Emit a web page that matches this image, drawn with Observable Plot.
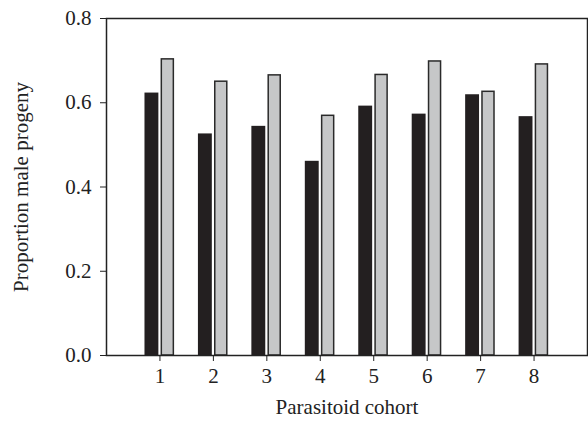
<!DOCTYPE html>
<html>
<head>
<meta charset="utf-8">
<script src="https://cdn.jsdelivr.net/npm/d3@7"></script>
<script src="https://cdn.jsdelivr.net/npm/@observablehq/plot@0.6"></script>
<style>
  html, body { margin: 0; padding: 0; background: #fff; }
</style>
</head>
<body>
<div id="chart"></div>
<script>
const cohorts = [1, 2, 3, 4, 5, 6, 7, 8];
const seriesDark = [0.623, 0.526, 0.544, 0.461, 0.592, 0.573, 0.619, 0.567];
const seriesLight = [0.703, 0.650, 0.665, 0.569, 0.666, 0.698, 0.626, 0.691];
const yTicks = [0, 0.2, 0.4, 0.6, 0.8];

const dark = cohorts.map((c, i) => ({cohort: c, value: seriesDark[i]}));
const light = cohorts.map((c, i) => ({cohort: c, value: seriesLight[i]}));

const FONT = "'Liberation Serif', 'Times New Roman', serif";
const FS = 21;

const chart = Plot.plot({
  width: 588,
  height: 421,
  marginLeft: 106,
  marginTop: 18,
  marginRight: 1,
  marginBottom: 66,
  style: {fontFamily: FONT, fontSize: FS + "px", color: "#222", background: "#fff"},
  x: {domain: [0, 9]},
  y: {domain: [0, 0.8]},
  marks: [
    Plot.rectY(dark, {x1: d => d.cohort - 0.28, x2: d => d.cohort - 0.02, y: "value", fill: "#231f20"}),
    Plot.rectY(light, {x1: d => d.cohort + 0.035, x2: d => d.cohort + 0.26, y: "value", fill: "#c6c7c8", stroke: "#2a2a2a", strokeWidth: 1.5}),
    Plot.frame({stroke: "#222", strokeWidth: 1.5}),
    Plot.axisX({ticks: cohorts, tickFormat: d3.format("d"), tickSize: 6, tickPadding: 7, label: "Parasitoid cohort", labelAnchor: "center", labelOffset: 58, labelArrow: false, stroke: "#222", fontFamily: FONT, fontSize: FS}),
    Plot.axisY({ticks: yTicks, tickFormat: d3.format(".1f"), tickSize: 6, tickPadding: 9, label: "Proportion male progeny", labelAnchor: "center", labelOffset: 93, labelArrow: false, stroke: "#222", fontFamily: FONT, fontSize: FS})
  ]
});
document.getElementById("chart").appendChild(chart);
</script>
</body>
</html>
